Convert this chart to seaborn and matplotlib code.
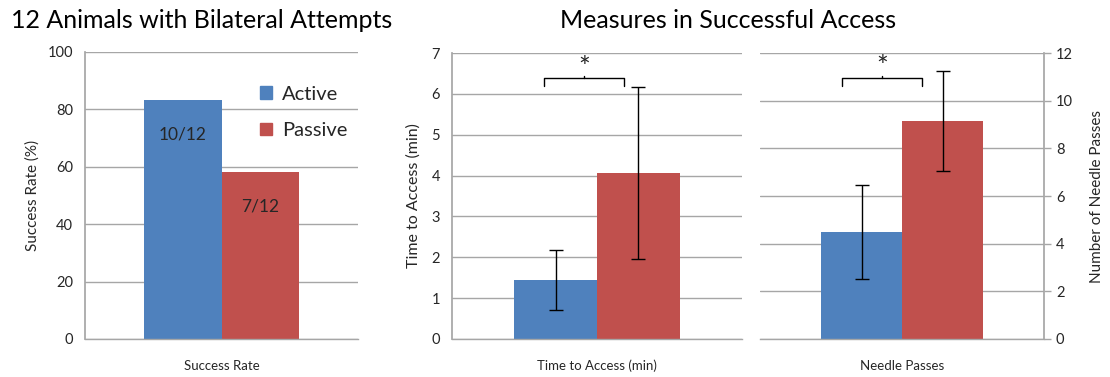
import numpy as np
import pandas as pd
import matplotlib
matplotlib.use("Agg")
import matplotlib.pyplot as plt
import seaborn as sns

# ---- data -------------------------------------------------------------
groups = ["Active", "Passive"]
n_animals = 12
successes = [10, 7]
success_rate = [100 * s / n_animals for s in successes]

time_mean = [1.45, 4.07]
time_err = [0.73, 2.11]

needle_mean = [4.5, 9.15]
needle_err = [1.97, 2.1]

colors = ["#4F81BD", "#C0504D"]

# ---- style ------------------------------------------------------------
sns.set_theme(style="white")
plt.rcParams["font.family"] = ["Lato", "DejaVu Sans"]
TXT = "#262626"
GRID = "#a6a6a6"

fig = plt.figure(figsize=(11.10, 3.77), dpi=100)
ax1 = fig.add_axes([0.0766, 0.1008, 0.2459, 0.7613])
ax2 = fig.add_axes([0.4072, 0.1008, 0.2613, 0.7586])
ax3 = fig.add_axes([0.6847, 0.1008, 0.2559, 0.7586])


def bar_panel(ax, category, values, errs=None):
    df = pd.DataFrame({"cat": [category] * len(groups), "group": groups, "value": values})
    sns.barplot(data=df, x="cat", y="value", hue="group", palette=colors,
                width=0.57, errorbar=None, ax=ax, saturation=1, linewidth=0,
                legend=False)
    if errs is not None:
        for patch, v, e in zip(ax.patches, values, errs):
            cx = patch.get_x() + patch.get_width() / 2
            ax.errorbar(cx, v, yerr=e, fmt="none", ecolor="black",
                        elinewidth=1.0, capsize=5, capthick=1.0, zorder=5)
    ax.set_xlim(-0.5, 0.5)
    ax.set_xlabel("")
    ax.set_xticks([0])
    ax.set_xticklabels([category], fontsize=9.5, color=TXT)
    ax.tick_params(axis="x", which="major", length=0, pad=15)
    ax.set_xticks([-0.5, 0.5], minor=True)
    ax.tick_params(axis="x", which="minor", length=4, width=1, color=GRID, direction="out")
    ax.yaxis.grid(True, color=GRID, linewidth=1)
    ax.set_axisbelow(True)
    for s in ("top", "right", "left"):
        ax.spines[s].set_visible(False)
    ax.spines["bottom"].set_color(GRID)
    ax.spines["bottom"].set_linewidth(1)
    ax.tick_params(axis="y", length=5, width=1, color=GRID, labelsize=10.5,
                   labelcolor=TXT, direction="out")


def bracket(ax, x0, x1, ytop, yleg, ystar):
    ax.plot([x0, x0, x1, x1], [yleg, ytop, ytop, yleg], color="black", lw=1, zorder=6)
    xm = (x0 + x1) / 2
    ax.plot([xm, xm], [ytop, ytop + (ytop - yleg) * 0.25], color="black", lw=1, zorder=6)
    ax.text(xm, ystar, "*", ha="center", va="center", fontsize=20, color=TXT)


# Panel 1: success rate
bar_panel(ax1, "Success Rate", success_rate)
ax1.set_ylim(0, 100)
ax1.set_yticks(np.arange(0, 101, 20))
ax1.spines["left"].set_visible(True)
ax1.spines["left"].set_color(GRID)
ax1.set_ylabel("Success Rate (%)", fontsize=11, color=TXT, labelpad=6)
for patch, s in zip(ax1.patches, successes):
    cx = patch.get_x() + patch.get_width() / 2
    ax1.text(cx, patch.get_height() - 12, f"{s}/{n_animals}", ha="center",
             va="center", fontsize=12.5, color=TXT)
handles = [plt.Rectangle((0, 0), 1, 1, color=c) for c in colors]
ax1.legend(handles, groups, loc="upper left", bbox_to_anchor=(0.575, 0.945),
           frameon=False, fontsize=14.5, handlelength=0.6, handleheight=0.6,
           handletextpad=0.5, labelspacing=0.95, labelcolor=TXT)

# Panel 2: time to access
bar_panel(ax2, "Time to Access (min)", time_mean, time_err)
ax2.set_ylim(0, 7)
ax2.set_yticks(np.arange(0, 8, 1))
ax2.spines["left"].set_visible(True)
ax2.spines["left"].set_color(GRID)
ax2.set_ylabel("Time to Access (min)", fontsize=11.5, color=TXT, labelpad=8)
bracket(ax2, -0.183, 0.093, 6.39, 6.2, 6.62)

# Panel 3: needle passes
bar_panel(ax3, "Needle Passes", needle_mean, needle_err)
ax3.set_ylim(0, 12)
ax3.set_yticks(np.arange(0, 13, 2))
ax3.yaxis.tick_right()
ax3.yaxis.set_label_position("right")
ax3.spines["right"].set_visible(True)
ax3.spines["right"].set_color(GRID)
ax3.tick_params(axis="y", length=5, width=1, color=GRID, labelsize=10.5,
                labelcolor=TXT, direction="out")
ax3.set_ylabel("Number of Needle Passes", fontsize=11, color=TXT, labelpad=12)
bracket(ax3, -0.21, 0.07, 10.95, 10.63, 11.35)

# Titles
fig.text(0.182, 0.945, "12 Animals with Bilateral Attempts", ha="center", va="center",
         fontsize=18, color="black")
fig.text(0.656, 0.945, "Measures in Successful Access", ha="center", va="center",
         fontsize=18, color="black")

fig.savefig("out.png", dpi=100)
